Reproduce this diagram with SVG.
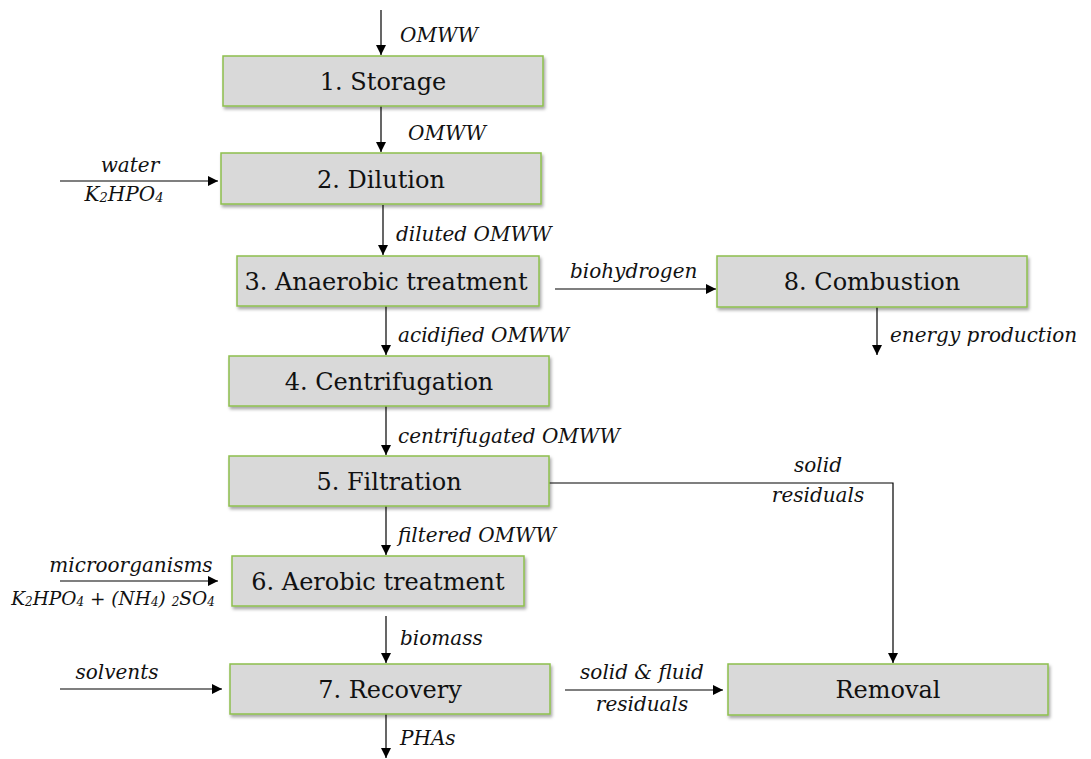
<svg xmlns="http://www.w3.org/2000/svg" width="1091" height="759" viewBox="0 0 1091 759">
<defs>
<marker id="ah" viewBox="0 0 10 10" refX="10" refY="5" markerWidth="10" markerHeight="10" markerUnits="userSpaceOnUse" orient="auto"><path d="M0,0 L10,5 L0,10 z" fill="#000"/></marker>
<filter id="sh" x="-5%" y="-20%" width="110%" height="150%"><feDropShadow dx="1.5" dy="2.5" stdDeviation="1.5" flood-color="#000" flood-opacity="0.35"/></filter>
<style>
.box{fill:#d9d9d9;stroke:#8dbf4d;stroke-width:1.5;filter:url(#sh)}
.t{font-family:"DejaVu Serif","Liberation Serif",serif;font-size:24px;fill:#111;text-anchor:middle;dominant-baseline:central}
.l{font-family:"DejaVu Serif","Liberation Serif",serif;font-size:20px;font-style:italic;fill:#111}
.c{text-anchor:middle}
.e{stroke:#000;stroke-width:1.2;fill:none;marker-end:url(#ah)}
.s{font-size:13px}
.f{font-size:18.5px}
.fs{font-size:12px}
</style>
</defs>
<g id="connectors">
<line class="e" x1="381" y1="10" x2="381" y2="55"/>
<line class="e" x1="381" y1="106" x2="381" y2="152"/>
<line class="e" x1="60" y1="181" x2="218" y2="181"/>
<line class="e" x1="383" y1="205" x2="383" y2="255"/>
<line class="e" x1="555" y1="289" x2="716" y2="289"/>
<line class="e" x1="877" y1="307" x2="877" y2="355"/>
<line class="e" x1="386" y1="306" x2="386" y2="355"/>
<line class="e" x1="386" y1="406" x2="386" y2="455"/>
<polyline class="e" points="549,483 893,483 893,663"/>
<line class="e" x1="386" y1="506" x2="386" y2="555"/>
<line class="e" x1="60" y1="581" x2="218" y2="581"/>
<line class="e" x1="386" y1="616" x2="386" y2="663"/>
<line class="e" x1="60" y1="689" x2="222" y2="689"/>
<line class="e" x1="386" y1="714" x2="386" y2="758"/>
<line class="e" x1="565" y1="690" x2="723" y2="690"/>
</g>
<g id="labels">
<text class="l" x="400" y="42">OMWW</text>
<text class="l" x="408" y="140">OMWW</text>
<text class="l c" x="130" y="172">water</text>
<text class="l c" x="124" y="201">K<tspan class="s" dy="1">2</tspan><tspan dy="-1">HPO</tspan><tspan class="s" dy="1">4</tspan></text>
<text class="l" x="396" y="241">diluted OMWW</text>
<text class="l" x="570" y="278">biohydrogen</text>
<text class="l" x="890" y="342">energy production</text>
<text class="l" x="398" y="342">acidified OMWW</text>
<text class="l" x="398" y="443">centrifugated OMWW</text>
<text class="l c" x="818" y="472">solid</text>
<text class="l c" x="818" y="502">residuals</text>
<text class="l" x="398" y="542">filtered OMWW</text>
<text class="l c" x="131" y="572">microorganisms</text>
<text class="l f c" x="113" y="605">K<tspan class="fs" dy="1">2</tspan><tspan dy="-1">HPO</tspan><tspan class="fs" dy="1">4</tspan><tspan dy="-1"> + (NH</tspan><tspan class="fs" dy="1">4</tspan><tspan dy="-1">) </tspan><tspan class="fs" dy="1">2</tspan><tspan dy="-1">SO</tspan><tspan class="fs" dy="1">4</tspan></text>
<text class="l" x="400" y="645">biomass</text>
<text class="l c" x="117" y="679">solvents</text>
<text class="l" x="400" y="745">PHAs</text>
<text class="l c" x="642" y="679">solid &amp; fluid</text>
<text class="l c" x="642" y="711">residuals</text>
</g>
<g id="n1"><rect class="box" x="223" y="56" width="320" height="50"/><text class="t" x="383" y="82">1. Storage</text></g>
<g id="n2"><rect class="box" x="221" y="153" width="320" height="51"/><text class="t" x="381" y="180">2. Dilution</text></g>
<g id="n3"><rect class="box" x="237" y="256" width="302" height="50"/><text class="t" x="386" y="282">3. Anaerobic treatment</text></g>
<g id="n8"><rect class="box" x="717" y="256" width="310" height="51"/><text class="t" x="872" y="282">8. Combustion</text></g>
<g id="n4"><rect class="box" x="229" y="356" width="320" height="50"/><text class="t" x="389" y="382">4. Centrifugation</text></g>
<g id="n5"><rect class="box" x="229" y="456" width="320" height="50"/><text class="t" x="389" y="482">5. Filtration</text></g>
<g id="n6"><rect class="box" x="232" y="556" width="292" height="50"/><text class="t" x="378" y="582">6. Aerobic treatment</text></g>
<g id="n7"><rect class="box" x="230" y="664" width="320" height="50"/><text class="t" x="390" y="690">7. Recovery</text></g>
<g id="removal"><rect class="box" x="728" y="664" width="320" height="51"/><text class="t" x="888" y="690">Removal</text></g>
</svg>
